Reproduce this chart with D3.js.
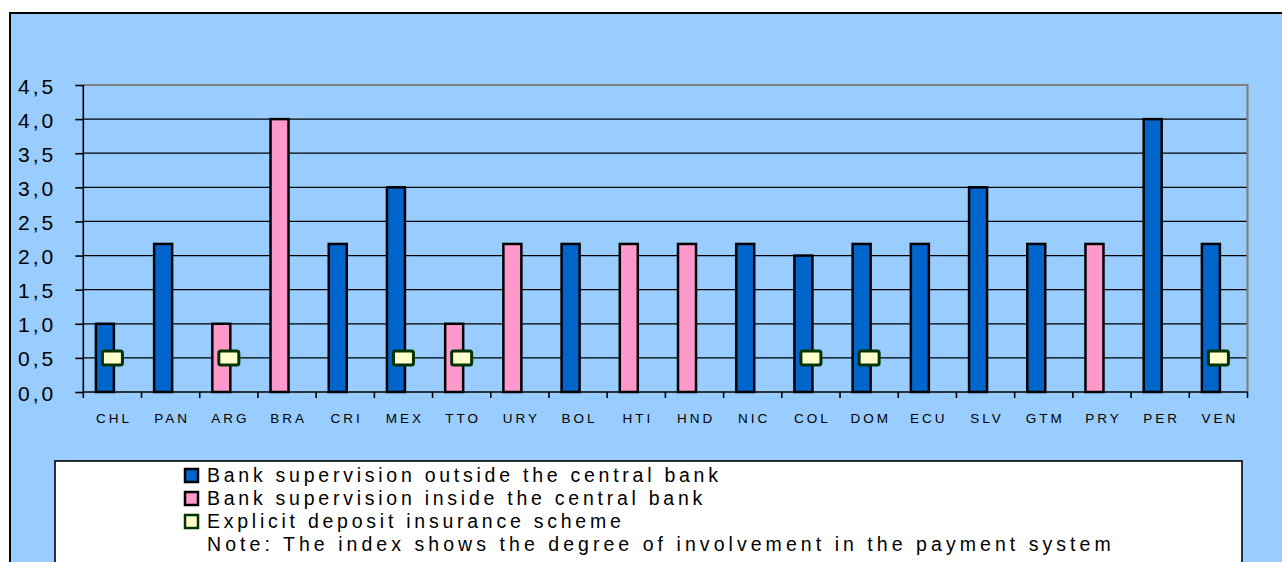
<!DOCTYPE html>
<html>
<head>
<meta charset="utf-8">
<script src="https://cdn.jsdelivr.net/npm/d3@7"></script>
<style>
  html, body { margin: 0; padding: 0; background: #ffffff; }
  svg { display: block; font-family: "Liberation Sans", Arial, sans-serif; }
</style>
</head>
<body>
<svg id="chart" width="1282" height="562"></svg>
<script>
// ---- Data ----
const categories = ["CHL","PAN","ARG","BRA","CRI","MEX","TTO","URY","BOL","HTI","HND","NIC","COL","DOM","ECU","SLV","GTM","PRY","PER","VEN"];
const indexValues = [1.0, 2.17, 1.0, 4.0, 2.17, 3.0, 1.0, 2.17, 2.17, 2.17, 2.17, 2.17, 2.0, 2.17, 2.17, 3.0, 2.17, 2.17, 4.0, 2.17];
// "out" = Bank supervision outside the central bank, "in" = inside the central bank
const supervision = ["out","out","in","in","out","out","in","in","out","in","in","out","out","out","out","out","out","in","out","out"];
const depositInsurance = ["CHL","ARG","MEX","TTO","COL","DOM","VEN"];
const depositMarkerValue = 0.5;
const yTicks = [0, 0.5, 1.0, 1.5, 2.0, 2.5, 3.0, 3.5, 4.0, 4.5];
const legendItems = [
  {key: "out", label: "Bank supervision outside the central bank"},
  {key: "in", label: "Bank supervision inside the central bank"},
  {key: "dep", label: "Explicit deposit insurance scheme"}
];
const noteText = "Note: The index shows the degree of involvement in the payment system";

// ---- Styles ----
const colors = { out: "#0066CC", in: "#FF99CC", dep: "#FFFFCC", depStroke: "#003300", bg: "#99CCFF" };
const FONT = "Liberation Sans, Arial, sans-serif";

const svg = d3.select("#chart");

// chart area background with border (extends beyond view on right/bottom)
svg.append("rect").attr("x", 10).attr("y", 13).attr("width", 1300).attr("height", 600)
  .attr("fill", colors.bg).attr("stroke", "#000").attr("stroke-width", 2);

const plot = { left: 83.3, right: 1247.5, top: 85, bottom: 392 };

const x = d3.scaleBand().domain(categories).range([plot.left, plot.right]).padding(0);
const y = d3.scaleLinear().domain([0, 4.5]).range([plot.bottom, plot.top]);

// gridlines
svg.append("g").selectAll("line").data(yTicks.filter(t => t > 0 && t < 4.5)).join("line")
  .attr("x1", plot.left).attr("x2", plot.right)
  .attr("y1", d => y(d)).attr("y2", d => y(d))
  .attr("stroke", "#000").attr("stroke-width", 1.3);

// plot top and right border (gray)
svg.append("path")
  .attr("d", `M${plot.left},${y(4.5)}H${plot.right}V${plot.bottom}`)
  .attr("fill", "none").attr("stroke", "#808080").attr("stroke-width", 2.2);

// bars
const barW = 18;
const barOffset = -7.5;
svg.append("g").selectAll("rect").data(categories).join("rect")
  .attr("x", (d) => x(d) + x.bandwidth() / 2 + barOffset - barW / 2)
  .attr("y", (d, i) => y(indexValues[i]))
  .attr("width", barW)
  .attr("height", (d, i) => y(0) - y(indexValues[i]))
  .attr("fill", (d, i) => colors[supervision[i]])
  .attr("stroke", "#000").attr("stroke-width", 2.5);

// y axis
const yAxis = d3.axisLeft(y).tickValues(yTicks).tickSize(8).tickFormat(d => d3.format(".1f")(d).replace(".", ","));
const gy = svg.append("g").attr("transform", `translate(${plot.left},0)`).call(yAxis);
gy.select(".domain").attr("stroke", "#000").attr("stroke-width", 1.6).attr("d", `M0,${plot.top}V${plot.bottom}`);
gy.selectAll(".tick line").attr("stroke", "#000").attr("stroke-width", 1.6);
gy.selectAll(".tick text")
  .attr("x", -30 + 3).attr("dy", null).attr("y", 8)
  .attr("font-size", 21).attr("letter-spacing", 3)
  .attr("fill", "#000").attr("font-family", FONT);

// x axis
const xAxis = d3.axisBottom(x).tickSize(0).tickPadding(0);
const gx = svg.append("g").attr("transform", `translate(0,${plot.bottom})`).call(xAxis);
gx.select(".domain").attr("stroke", "#000").attr("stroke-width", 1.6).attr("d", `M${plot.left},0H${plot.right}`);
gx.selectAll(".tick text")
  .attr("y", 31).attr("dy", null).attr("dx", 1.5)
  .attr("font-size", 13.5).attr("letter-spacing", 3)
  .attr("fill", "#000").attr("font-family", FONT);
// band boundary ticks
const edges = categories.map(c => x(c)).concat([plot.right]);
gx.append("g").selectAll("line").data(edges).join("line")
  .attr("x1", d => d).attr("x2", d => d).attr("y1", 0).attr("y2", 6)
  .attr("stroke", "#000").attr("stroke-width", 1.6);

// deposit insurance markers
svg.append("g").selectAll("rect").data(depositInsurance).join("rect")
  .attr("x", d => x(d) + x.bandwidth() / 2 - 10)
  .attr("y", y(depositMarkerValue) - 7)
  .attr("width", 20).attr("height", 14)
  .attr("rx", 2)
  .attr("fill", colors.dep).attr("stroke", colors.depStroke).attr("stroke-width", 3);

// legend box
svg.append("rect").attr("x", 55).attr("y", 461).attr("width", 1187).attr("height", 200)
  .attr("fill", "#fff").attr("stroke", "#000").attr("stroke-width", 1.6);

const legRowY = [482, 505, 528, 551];
const lg = svg.append("g").attr("font-family", FONT);
legendItems.forEach((it, i) => {
  lg.append("rect").attr("x", 185).attr("y", legRowY[i] - 13).attr("width", 13).attr("height", 13)
    .attr("fill", colors[it.key])
    .attr("stroke", it.key === "dep" ? colors.depStroke : "#000").attr("stroke-width", 2.5);
  lg.append("text").attr("x", 207).attr("y", legRowY[i])
    .attr("font-size", 19.5).attr("letter-spacing", 3.75).attr("fill", "#000")
    .text(it.label);
});
lg.append("text").attr("x", 207).attr("y", legRowY[3])
  .attr("font-size", 19.5).attr("letter-spacing", 4.05).attr("fill", "#000")
  .text(noteText);
</script>
</body>
</html>
